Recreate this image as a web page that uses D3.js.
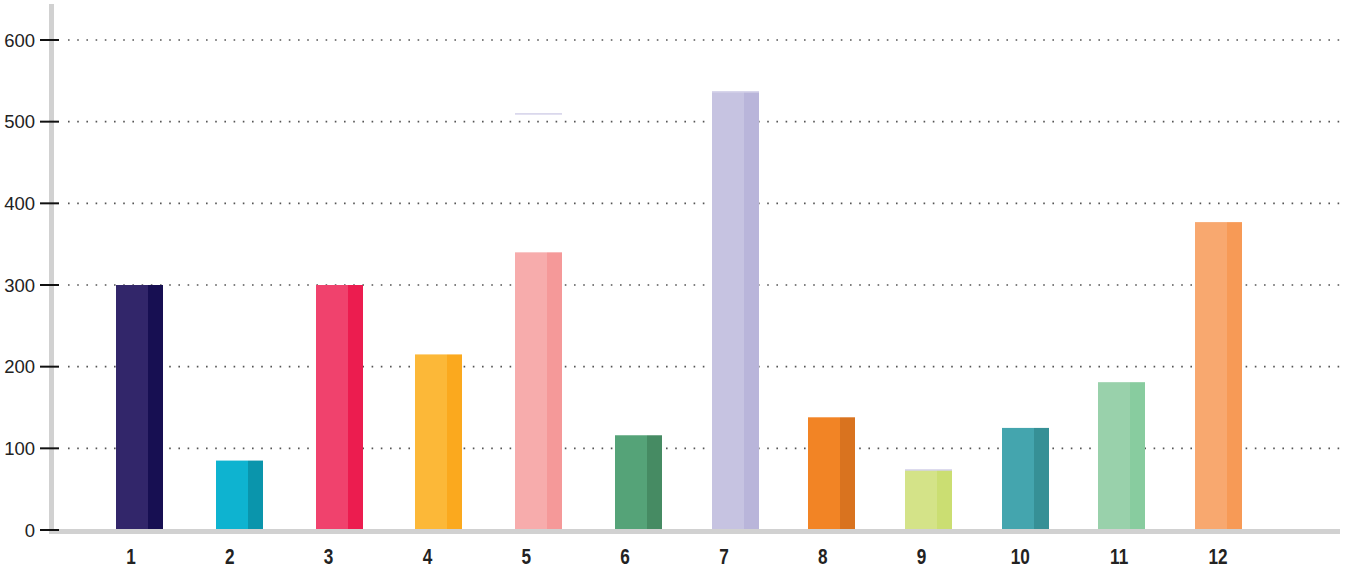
<!DOCTYPE html>
<html>
<head>
<meta charset="utf-8">
<script src="https://cdn.jsdelivr.net/npm/d3@7"></script>
<style>
  html, body { margin: 0; padding: 0; background: #fff; }
  svg { display: block; }
</style>
</head>
<body>
<div id="chart"></div>
<script>
const categories = ["1", "2", "3", "4", "5", "6", "7", "8", "9", "10", "11", "12"];
const values = [300, 85, 300, 215, 340, 116, 536, 138, 73, 125, 181, 377];
const lightColors = ["#32266a", "#0eb3d0", "#f0426d", "#fcb838", "#f7acac", "#55a378",
  "#c6c3e1", "#f28425", "#d4e388", "#44a5ae", "#99d1ab", "#f8a86f"];
const darkColors = ["#170f52", "#0a95ac", "#ec1c4f", "#fba91e", "#f59999", "#468b63",
  "#b9b5da", "#d9731f", "#cbde72", "#369096", "#88cc9f", "#f79a56"];
// thin lavender cap lines seen on a few bars (null = none)
const capValues = [null, null, null, null, 509, null, 536, null, 73, null, null, null];
const yTicks = [0, 100, 200, 300, 400, 500, 600];

const WIDTH = 1355;
const HEIGHT = 574;
const AXIS_X = 51.5;
const BASE_Y = 530;
const GRID_LEFT = 68;
const GRID_RIGHT = 1340;
const BAR_W = 47;
const DARK_W = 15;

const svg = d3.select("#chart")
  .append("svg")
  .attr("width", WIDTH)
  .attr("height", HEIGHT);

// bar spacing in the original is not quite even: wider on the left half
const x = d3.scaleLinear()
  .domain([0, 5, 11])
  .range([116, 615, 1195]);

// the category labels sit on their own, evenly spaced, grid
const xLabel = d3.scalePoint()
  .domain(categories)
  .range([131, 1218]);

const y = d3.scaleLinear()
  .domain([0, 600])
  .range([BASE_Y, 40]);

// dotted grid
svg.append("g")
  .attr("class", "grid")
  .selectAll("line")
  .data(yTicks.filter((t) => t > 0))
  .join("line")
  .attr("x1", GRID_LEFT)
  .attr("x2", GRID_RIGHT)
  .attr("y1", (d) => y(d))
  .attr("y2", (d) => y(d))
  .attr("stroke", "#555")
  .attr("stroke-width", 1.6)
  .attr("stroke-dasharray", "1.6,7.6");

// bars: light body + darker right strip
const bars = svg.append("g").attr("class", "bars")
  .selectAll("g")
  .data(categories)
  .join("g");

bars.append("rect")
  .attr("x", (d, i) => Math.round(x(i)))
  .attr("y", (d, i) => y(values[i]))
  .attr("width", BAR_W - DARK_W)
  .attr("height", (d, i) => BASE_Y - y(values[i]))
  .attr("fill", (d, i) => lightColors[i]);

bars.append("rect")
  .attr("x", (d, i) => Math.round(x(i)) + BAR_W - DARK_W)
  .attr("y", (d, i) => y(values[i]))
  .attr("width", DARK_W)
  .attr("height", (d, i) => BASE_Y - y(values[i]))
  .attr("fill", (d, i) => darkColors[i]);

bars.filter((d, i) => capValues[i] != null)
  .append("rect")
  .attr("x", (d) => Math.round(x(categories.indexOf(d))))
  .attr("y", (d) => y(capValues[categories.indexOf(d)]) - 1)
  .attr("width", BAR_W)
  .attr("height", 1.2)
  .attr("fill", "#c9c6e4");

// gray axis lines
svg.append("line")
  .attr("x1", AXIS_X).attr("x2", AXIS_X)
  .attr("y1", 4).attr("y2", 534)
  .attr("stroke", "#d1d1d1")
  .attr("stroke-width", 5);

svg.append("line")
  .attr("x1", 49).attr("x2", GRID_RIGHT)
  .attr("y1", 531.5).attr("y2", 531.5)
  .attr("stroke", "#d1d1d1")
  .attr("stroke-width", 5);

// y ticks + labels
const yAxis = svg.append("g").attr("class", "y-axis");
yAxis.selectAll("line")
  .data(yTicks)
  .join("line")
  .attr("x1", 40).attr("x2", 59)
  .attr("y1", (d) => y(d)).attr("y2", (d) => y(d))
  .attr("stroke", "#111")
  .attr("stroke-width", 2);

yAxis.selectAll("text")
  .data(yTicks)
  .join("text")
  .attr("x", 35)
  .attr("y", (d) => y(d))
  .attr("dy", "0.36em")
  .attr("text-anchor", "end")
  .attr("font-family", "Liberation Sans, Arial, sans-serif")
  .attr("font-size", 18.5)
  .attr("fill", "#222")
  .text((d) => d);

// x labels: condensed bold digits
svg.append("g").attr("class", "x-axis")
  .selectAll("text")
  .data(categories)
  .join("text")
  .attr("transform", (d) => `translate(${xLabel(d)},564) scale(0.78,1)`)
  .attr("text-anchor", "middle")
  .attr("font-family", "Liberation Sans, Arial, sans-serif")
  .attr("font-weight", "bold")
  .attr("font-size", 22)
  .attr("fill", "#222")
  .text((d) => d);
</script>
</body>
</html>
